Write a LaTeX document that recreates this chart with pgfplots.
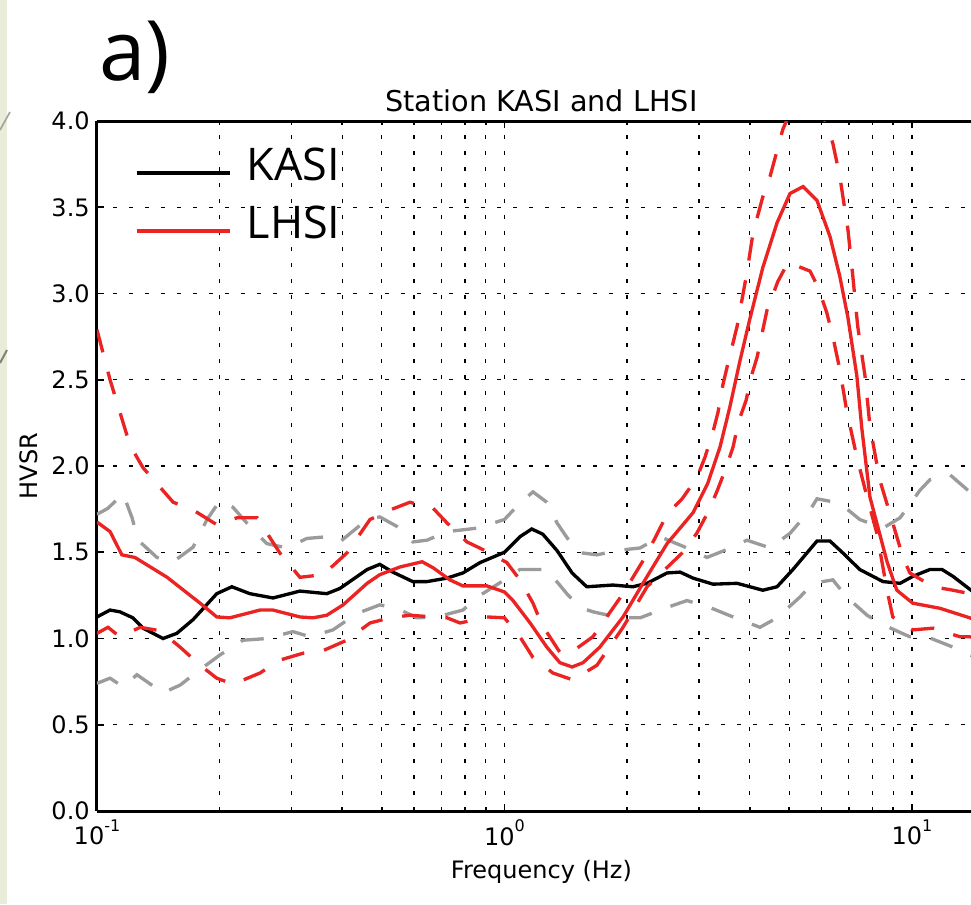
\documentclass[border=0pt]{standalone}
\usepackage{pgfplots}
\pgfplotsset{compat=1.18}
\usepackage{fontspec}
\setmainfont{DejaVu Sans}
\newfontfamily\osans{Open Sans}
\definecolor{myred}{RGB}{235,35,35}
\definecolor{mygray}{RGB}{155,155,155}
\definecolor{strip}{RGB}{232,236,216}
\newcommand\pw[1]{10\raisebox{0.55em}{\fontsize{4.8}{5}\selectfont #1}}

\begin{document}
\begin{tikzpicture}
\begin{axis}[
  scale only axis, width=264.03pt, height=207pt,
  xmin=-1, xmax=1.16, ymin=0, ymax=4,
  axis x line=box, axis y line=left,
  axis line style={-, line width=0.9pt, black},
  tick align=inside,
  tick style={black, line width=0.5pt},
  major tick length=2.2pt, minor tick length=1.1pt,
  xtick={-1,0,1}, xticklabels={\pw{-1},\pw{0},\pw{1}},
  minor xtick={-0.69897,-0.52288,-0.39794,-0.30103,-0.22185,-0.15490,-0.09691,-0.04576,0.30103,0.47712,0.60206,0.69897,0.77815,0.84510,0.90309,0.95424},
  ytick={0,0.5,1,1.5,2,2.5,3,3.5,4},
  /pgf/number format/assume math mode=true,
  yticklabel style={/pgf/number format/fixed, /pgf/number format/fixed zerofill, /pgf/number format/precision=1},
  every y tick label/.append style={anchor=east, inner sep=0pt, xshift=-2pt},
  every x tick label/.append style={anchor=north, inner sep=0pt, yshift=-2.5pt},
  ticklabel style={font=\fontsize{7.2}{8}\selectfont},
  xmajorgrids, xminorgrids, ymajorgrids,
  major grid style={black, line width=0.4pt, dash pattern=on 1.2pt off 3.6pt},
  minor grid style={black, line width=0.4pt, dash pattern=on 1.2pt off 3.6pt},
  xlabel={Frequency (Hz)}, ylabel={HVSR},
  title={Station KASI and LHSI},
  every axis x label/.style={at={(axis description cs:0.505,-0.088)}, anchor=center, font=\fontsize{7.2}{8}\selectfont},
  every axis y label/.style={at={(axis description cs:-0.078,0.5)}, rotate=90, anchor=center, font=\fontsize{7.2}{8}\selectfont},
  every axis title/.style={at={(axis description cs:0.505,1.0145)}, anchor=base, font=\fontsize{8.6}{9}\selectfont},
  legend cell align=left,
  legend style={draw=none, fill=none, at={(axis description cs:0.0432,0.9628)}, anchor=north west,
    inner sep=0pt, outer sep=0pt, row sep=7.4pt, column sep=4.5pt,
    font=\osans\fontsize{13.5}{14}\selectfont,
    nodes={inner sep=0pt, text height=10pt, text depth=0pt}},
  legend image code/.code={\draw[#1] (0pt,-2.9pt) -- (28pt,-2.9pt);},
]
% gray upper
\addplot[mygray, line width=1pt, dash pattern=on 7pt off 6pt, forget plot] table {
-1.000 1.72
-0.973 1.755
-0.936 1.84
-0.914 1.70
-0.899 1.57
-0.853 1.47
-0.813 1.445
-0.764 1.53
-0.730 1.69
-0.698 1.80
-0.666 1.76
-0.625 1.65
-0.583 1.55
-0.534 1.525
-0.485 1.58
-0.436 1.59
-0.404 1.56
-0.337 1.69
-0.306 1.705
-0.264 1.65
-0.225 1.56
-0.190 1.57
-0.141 1.62
-0.102 1.63
-0.067 1.64
0.000 1.69
0.038 1.785
0.070 1.85
0.104 1.79
0.129 1.67
0.178 1.50
0.227 1.485
0.276 1.51
0.333 1.525
0.382 1.59
0.448 1.525
0.497 1.47
0.561 1.53
0.595 1.57
0.652 1.525
0.701 1.61
0.750 1.745
0.767 1.81
0.823 1.785
0.872 1.69
0.929 1.64
0.971 1.70
1.020 1.86
1.044 1.92
1.093 1.95
1.142 1.85
1.160 1.80
};
% gray lower
\addplot[mygray, line width=1pt, dash pattern=on 7pt off 6pt, forget plot] table {
-1.000 0.74
-0.968 0.77
-0.936 0.72
-0.902 0.79
-0.838 0.685
-0.796 0.73
-0.747 0.82
-0.698 0.905
-0.642 0.99
-0.583 1.00
-0.519 1.04
-0.477 1.01
-0.421 1.05
-0.362 1.145
-0.306 1.195
-0.264 1.175
-0.215 1.12
-0.166 1.125
-0.102 1.165
-0.060 1.25
0.000 1.34
0.038 1.40
0.104 1.40
0.153 1.26
0.185 1.18
0.217 1.155
0.283 1.12
0.333 1.12
0.399 1.18
0.448 1.22
0.504 1.18
0.561 1.125
0.627 1.065
0.669 1.12
0.725 1.24
0.757 1.32
0.806 1.34
0.840 1.24
0.890 1.135
0.929 1.08
0.995 1.01
1.037 1.01
1.101 0.95
1.142 0.905
1.160 0.89
};
% KASI
\addplot[black, line width=1pt] table {
-1.000 1.125
-0.968 1.165
-0.944 1.155
-0.912 1.12
-0.887 1.06
-0.838 1.00
-0.804 1.03
-0.764 1.11
-0.706 1.26
-0.669 1.30
-0.625 1.26
-0.568 1.235
-0.502 1.275
-0.436 1.26
-0.404 1.29
-0.337 1.40
-0.306 1.43
-0.274 1.385
-0.225 1.33
-0.190 1.33
-0.141 1.35
-0.102 1.38
-0.060 1.44
0.000 1.50
0.038 1.59
0.067 1.635
0.094 1.605
0.129 1.51
0.166 1.38
0.202 1.30
0.266 1.31
0.315 1.30
0.350 1.32
0.399 1.38
0.431 1.385
0.463 1.35
0.512 1.315
0.571 1.32
0.634 1.28
0.669 1.30
0.708 1.40
0.767 1.565
0.799 1.565
0.831 1.495
0.872 1.40
0.929 1.33
0.971 1.32
1.002 1.36
1.044 1.40
1.074 1.40
1.101 1.36
1.145 1.28
1.160 1.25
};
\addlegendentry{KASI}
% LHSI upper
\addplot[myred, line width=1pt, dash pattern=on 7pt off 6pt, forget plot] table {
-1.000 2.79
-0.968 2.50
-0.919 2.12
-0.887 1.99
-0.813 1.79
-0.764 1.745
-0.706 1.66
-0.656 1.70
-0.607 1.70
-0.551 1.495
-0.502 1.355
-0.445 1.37
-0.387 1.495
-0.330 1.69
-0.281 1.745
-0.232 1.79
-0.175 1.755
-0.141 1.67
-0.092 1.56
-0.048 1.51
0.006 1.44
0.038 1.34
0.070 1.205
0.092 1.08
0.136 0.92
0.161 0.915
0.217 1.01
0.291 1.26
0.345 1.47
0.369 1.58
0.399 1.72
0.436 1.81
0.472 1.93
0.492 2.05
0.512 2.20
0.524 2.31
0.536 2.47
0.548 2.59
0.571 2.81
0.595 3.12
0.610 3.35
0.634 3.56
0.652 3.68
0.683 3.95
0.737 4.25
0.791 3.98
0.806 3.87
0.823 3.68
0.843 3.37
0.855 3.10
0.867 2.81
0.885 2.52
0.897 2.23
0.921 1.92
0.953 1.67
0.978 1.47
0.995 1.38
1.052 1.30
1.101 1.28
1.142 1.26
1.160 1.25
};
% LHSI lower
\addplot[myred, line width=1pt, dash pattern=on 7pt off 6pt, forget plot] table {
-1.000 1.03
-0.973 1.065
-0.944 1.01
-0.894 1.065
-0.845 1.045
-0.796 0.95
-0.747 0.845
-0.706 0.77
-0.666 0.735
-0.600 0.80
-0.551 0.875
-0.494 0.915
-0.445 0.93
-0.387 0.99
-0.330 1.09
-0.281 1.12
-0.232 1.135
-0.175 1.125
-0.141 1.12
-0.109 1.09
-0.043 1.125
0.000 1.12
0.038 1.01
0.070 0.89
0.119 0.80
0.168 0.76
0.227 0.845
0.291 1.065
0.350 1.30
0.438 1.50
0.472 1.61
0.499 1.73
0.521 1.85
0.544 1.99
0.561 2.11
0.575 2.26
0.593 2.38
0.607 2.53
0.620 2.63
0.644 2.90
0.671 3.07
0.696 3.18
0.750 3.13
0.769 3.04
0.791 2.89
0.806 2.75
0.823 2.56
0.840 2.32
0.865 2.05
0.890 1.82
0.914 1.61
0.939 1.28
0.953 1.125
1.002 1.05
1.052 1.06
1.118 1.01
1.142 1.01
1.160 1.00
};
% LHSI
\addplot[myred, line width=1pt] table {
-1.000 1.675
-0.968 1.62
-0.939 1.485
-0.907 1.47
-0.828 1.355
-0.747 1.205
-0.706 1.125
-0.674 1.12
-0.600 1.165
-0.568 1.165
-0.502 1.125
-0.470 1.12
-0.436 1.135
-0.396 1.195
-0.337 1.32
-0.306 1.37
-0.256 1.415
-0.202 1.445
-0.175 1.41
-0.134 1.34
-0.102 1.305
-0.043 1.305
0.000 1.27
0.021 1.22
0.063 1.09
0.104 0.95
0.136 0.86
0.166 0.835
0.193 0.86
0.234 0.95
0.291 1.125
0.345 1.34
0.399 1.55
0.463 1.73
0.499 1.90
0.529 2.11
0.553 2.34
0.578 2.61
0.602 2.85
0.634 3.15
0.669 3.41
0.701 3.58
0.733 3.62
0.767 3.54
0.799 3.33
0.823 3.10
0.843 2.86
0.865 2.52
0.877 2.22
0.897 1.82
0.939 1.445
0.963 1.28
1.002 1.205
1.069 1.175
1.142 1.12
1.160 1.10
};
\addlegendentry{LHSI}
\end{axis}
\pgfresetboundingbox
\path[use as bounding box] (-29.1pt,-27.9pt) rectangle (262.2pt,243.3pt);
\fill[strip] (-29.1pt,-27.9pt) rectangle (-27pt,243.3pt);
\draw[black!45!strip, line width=0.6pt] (-29.1pt,134.4pt) -- (-27pt,138.3pt);
\draw[black!30!strip, line width=0.5pt] (-29.1pt,204.3pt) -- (-26.1pt,209.7pt);
\node[anchor=base west, inner sep=0pt, font=\osans\fontsize{25}{25}\selectfont] at (0.6pt,219.3pt) {a)};
\end{tikzpicture}
\end{document}
